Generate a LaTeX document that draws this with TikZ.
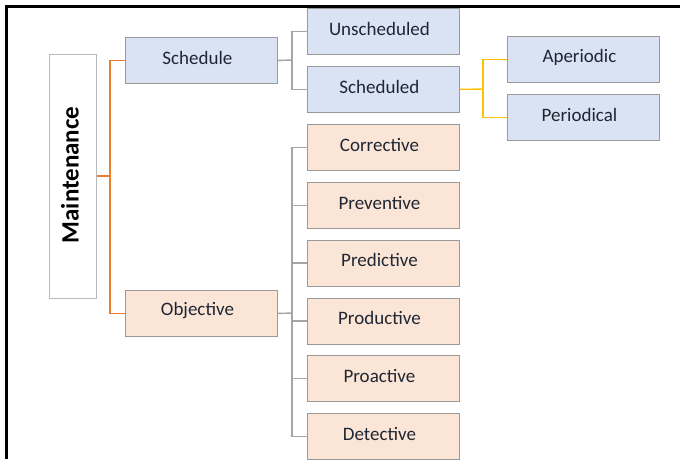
\documentclass[tikz,border=0pt]{standalone}
\usepackage{fontspec}
\setmainfont{Carlito}
\definecolor{bluefill}{HTML}{DAE3F3}
\definecolor{orfill}{HTML}{FBE5D6}
\definecolor{boxline}{HTML}{9A9A9A}
\definecolor{graylink}{HTML}{A5A5A5}
\definecolor{orlink}{HTML}{ED7D31}
\definecolor{yelink}{HTML}{FFC000}
\definecolor{txt}{HTML}{1F2633}
\begin{document}
\begin{tikzpicture}[x=1pt,y=-1pt,
  box/.style={draw=boxline,line width=0.9pt,minimum width=152pt,minimum height=46pt,inner sep=0pt,anchor=north west},
  lbl/.style={text=txt,font=\fontsize{19}{21}\selectfont},
  bbox/.style={box,fill=bluefill},
  obox/.style={box,fill=orfill},
  glink/.style={draw=graylink,line width=1.4pt},
  olink/.style={draw=orlink,line width=1.4pt},
  ylink/.style={draw=yelink,line width=1.4pt}]
\useasboundingbox (0,0) rectangle (680,459);
\fill[white] (0,0) rectangle (680,459);
% frame
\draw[line width=3pt,black] (6,459) -- (6,6) -- (680,6);
% root
\node[draw=boxline!70,line width=0.8pt,fill=white,minimum width=47pt,minimum height=244pt,inner sep=0pt,anchor=north west] (main) at (49,54) {};
\node[rotate=90,font=\fontsize{25}{27}\selectfont\bfseries,text=black] (mainlbl) at (70,175) {Maintenance};
% level 1
\node[bbox] (sched) at (125,37) {};
\node[obox] (obj) at (125,290) {};
% level 2 schedule
\node[bbox] (unsch) at (307,8) {};
\node[bbox] (schd) at (307,66) {};
% level 3
\node[bbox] (aper) at (507,36) {};
\node[bbox] (peri) at (507,94) {};
% objective children
\node[obox] (corr) at (307,124) {};
\node[obox] (prev) at (307,182) {};
\node[obox] (pred) at (307,239.5) {};
\node[obox] (prod) at (307,297.5) {};
\node[obox] (proa) at (307,355) {};
\node[obox] (dete) at (307,413) {};
% labels
\foreach \n/\t in {sched/Schedule,obj/Objective,unsch/Unscheduled,schd/Scheduled,aper/Aperiodic,peri/Periodical,corr/Corrective,prev/Preventive,pred/Predictive,prod/Productive,proa/Proactive,dete/Detective}
  \node[lbl,yshift=2.5pt,xshift=-4pt] (\n-t) at (\n.center) {\t};
% orange links
\draw[olink] (main.east |- 0,176) -- (110,176);
\draw[olink] (sched.west) -| (110,176) |- (obj.west);
% gray schedule links
\draw[glink] (sched.east) -- (292,60);
\draw[glink] (unsch.west) -| (292,60) |- (schd.west);
% yellow links
\draw[ylink] (schd.east) -- (483,89);
\draw[ylink] (aper.west) -| (483,89) |- (peri.west);
% gray objective links
\draw[glink] (obj.east) -- (292,313);
\draw[glink] (corr.west) -| (292,313) |- (dete.west);
\foreach \n in {prev,pred,prod,proa} \draw[glink] (\n.west) -- (292,0 |- \n.west);
\end{tikzpicture}
\end{document}
